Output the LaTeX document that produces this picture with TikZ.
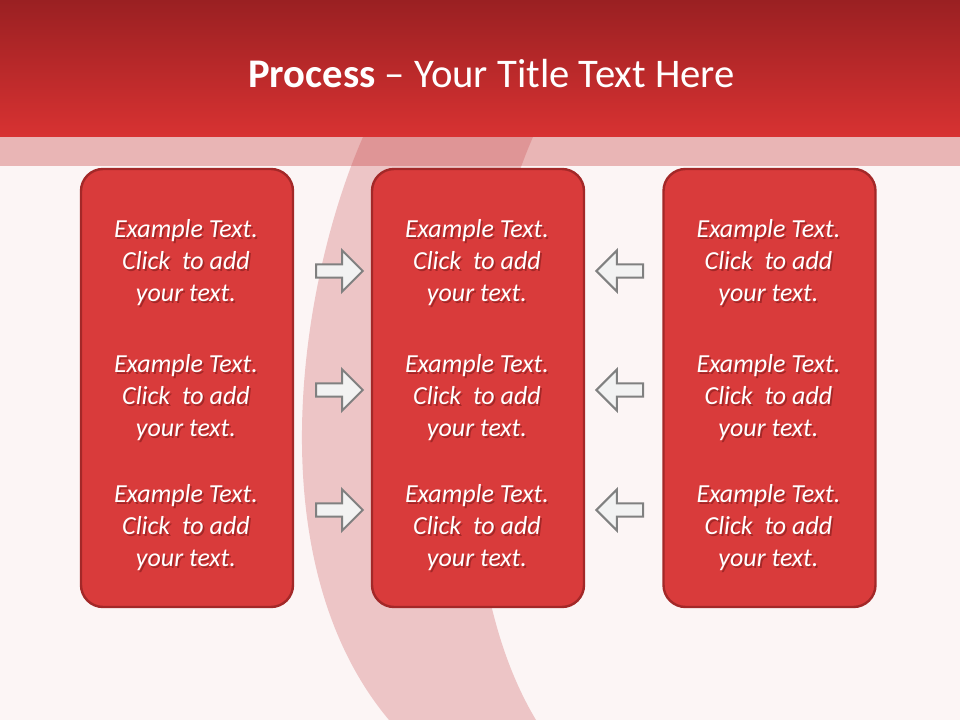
\documentclass[tikz,border=0pt]{standalone}
\usepackage{fontspec}
\setmainfont{Carlito}
\usepackage{tikz}
\usetikzlibrary{shapes.arrows}
\definecolor{pagebg}{RGB}{252,245,245}
\definecolor{headtop}{RGB}{154,32,34}
\definecolor{headbottom}{RGB}{216,50,50}
\definecolor{bandfill}{RGB}{237,197,198}
\definecolor{stripred}{RGB}{198,62,62}
\definecolor{panelfill}{RGB}{217,59,59}
\definecolor{panelline}{RGB}{163,40,40}
\definecolor{arrowline}{RGB}{128,128,128}
\definecolor{arrowfill}{RGB}{242,242,242}
\definecolor{textshade}{RGB}{110,20,20}

\tikzset{
  panel/.style={draw=panelline, line width=1.8pt, fill=panelfill,
    rounded corners=16.5pt, minimum width=159pt, minimum height=328.5pt, inner sep=0pt},
  blockarrow/.style={single arrow, draw=arrowline, line width=1.5pt, fill=arrowfill,
    minimum height=35pt, single arrow head extend=10.5pt, inner xsep=0pt, inner ysep=4.2pt,
    anchor=tail},
  panelnote/.style={text=white, align=center, inner sep=0pt,
    font=\fontsize{19.5}{24}\selectfont\itshape},
  noteshade/.style={panelnote, text=textshade, opacity=0.5, xshift=1.3pt, yshift=-1.3pt}
}

% note with its shadow: name, position
\newcommand{\panelnote}[2]{%
  \node[noteshade] (#1s) at (#2) {Example Text.\\Click~ to add\\your text.};
  \node[panelnote] (#1) at (#2) {Example Text.\\Click~ to add\\your text.};
}

\begin{document}
\begin{tikzpicture}[x=0.75pt,y=-0.75pt]
            \useasboundingbox (0,0) rectangle (960,720);
            \fill[pagebg] (0,0) rectangle (960,720);

            % background band and header
            \fill[bandfill] (363,137) .. controls (300,280) and (255,560) .. (389,720)
                -- (536,720) .. controls (440,560) and (470,280) .. (533,137) -- cycle;
            \shade[top color=headtop, bottom color=headbottom] (0,0) rectangle (960,137);
            \fill[stripred, opacity=0.35] (0,137) rectangle (960,166);

            \node[text=white, anchor=base, inner sep=0pt, font=\fontsize{30.5}{36}\selectfont]
                (title) at (491.5,88) {\textbf{Process} -- Your Title Text Here};

            % panels
            \node[panel] (left) at (187,388) {};
            \node[panel] (middle) at (478,388) {};
            \node[panel] (right) at (769.5,388) {};

            \panelnote{lefta}{186,263}
            \panelnote{leftb}{186,398}
            \panelnote{leftc}{186,528}
            \panelnote{middlea}{477,263}
            \panelnote{middleb}{477,398}
            \panelnote{middlec}{477,528}
            \panelnote{righta}{768.5,263}
            \panelnote{rightb}{768.5,398}
            \panelnote{rightc}{768.5,528}

            % arrows into the middle panel
            \node[blockarrow] (ina) at (315,271) {};
            \node[blockarrow] (inb) at (315,390) {};
            \node[blockarrow] (inc) at (315,510) {};
            \node[blockarrow, shape border rotate=180] (backa) at (644,271) {};
            \node[blockarrow, shape border rotate=180] (backb) at (644,390) {};
            \node[blockarrow, shape border rotate=180] (backc) at (644,510) {};
        \end{tikzpicture}
\end{document}
